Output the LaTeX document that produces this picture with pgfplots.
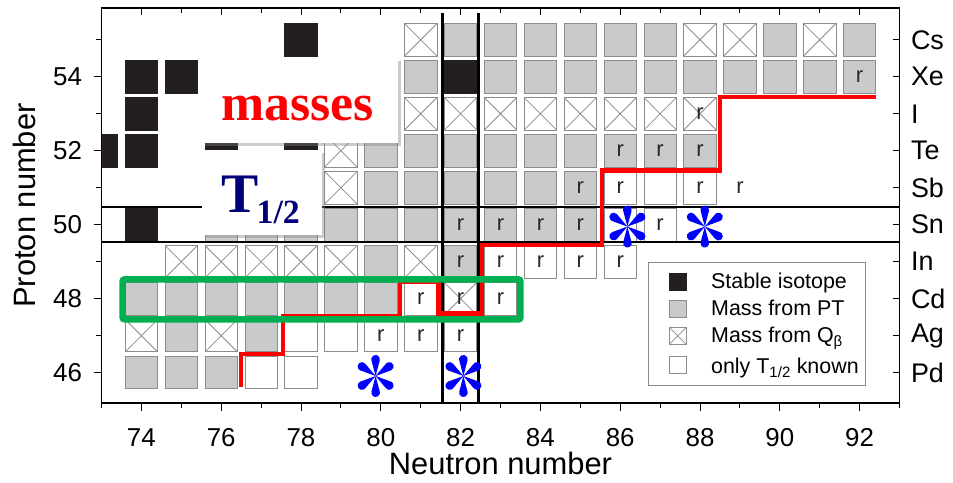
\documentclass[border=0pt]{standalone}
\usepackage{fontspec}
\setmainfont{Liberation Sans}
\newfontfamily\bserif{Liberation Serif}
\usepackage{pgfplots}
\pgfplotsset{compat=1.18}
\usetikzlibrary{shadows}
\definecolor{cellgray}{RGB}{200,202,204}
\definecolor{celledge}{RGB}{140,140,140}
\definecolor{stablec}{RGB}{35,31,32}
\definecolor{mygreen}{RGB}{0,176,80}
\definecolor{navyc}{RGB}{0,0,120}
\pgfdeclareplotmark{crossbox}{%
  \pgfpathrectangle{\pgfqpoint{-\pgfplotmarksize}{-\pgfplotmarksize}}{\pgfqpoint{2\pgfplotmarksize}{2\pgfplotmarksize}}%
  \pgfusepathqfillstroke
  \pgfpathmoveto{\pgfqpoint{-\pgfplotmarksize}{-\pgfplotmarksize}}%
  \pgfpathlineto{\pgfqpoint{\pgfplotmarksize}{\pgfplotmarksize}}%
  \pgfpathmoveto{\pgfqpoint{-\pgfplotmarksize}{\pgfplotmarksize}}%
  \pgfpathlineto{\pgfqpoint{\pgfplotmarksize}{-\pgfplotmarksize}}%
  \pgfusepathqstroke}
\pgfdeclareplotmark{ast6}{%
  \foreach \a in {90,35,-35,-90,-145,145}{%
    \pgfscope
    \pgftransformrotate{\a}%
    \pgfpathmoveto{\pgfqpoint{0pt}{0pt}}%
    \pgfpathlineto{\pgfqpoint{0.7283\pgfplotmarksize}{-0.1933\pgfplotmarksize}}%
    \pgfpatharc{-104.9}{104.9}{0.2\pgfplotmarksize}%
    \pgfpathclose
    \pgfusepathqfill
    \endpgfscope}%
}
\newcommand\rfont{\fontsize{22}{22}\selectfont}
\begin{document}
\begin{tikzpicture}
\useasboundingbox (-101.5bp,-80bp) rectangle (851.5bp,403bp);
\begin{axis}[
  at={(0,0)}, anchor=south west,
  scale only axis, width=798bp, height=395bp,
  xmin=73, xmax=93, ymin=45.18, ymax=55.86,
  axis line style={line width=1.2bp},
  xtick={74,76,...,92}, minor xtick={73,75,...,93},
  ytick={46,48,...,54}, minor ytick={45,47,...,55},
  xtick pos=left, ytick pos=left,
  tick align=outside,
  major tick length=8bp, minor tick length=5bp,
  every tick/.style={black, line width=1bp},
  tick label style={font=\fontsize{26}{26}\selectfont},
  xticklabel style={yshift=-14bp},
  yticklabel style={xshift=-8bp},
  /pgf/number format/assume math mode=true,
  xlabel={Neutron number}, ylabel={Proton number},
  every axis x label/.style={at={(axis description cs:0.5,0)}, anchor=center, yshift=-60.5bp, font=\fontsize{31}{31}\selectfont},
  every axis y label/.style={at={(axis description cs:0,0.5)}, xshift=-77.5bp, anchor=center, rotate=90, font=\fontsize{31}{31}\selectfont},
  clip marker paths=true,
  legend cell align=left,
  legend image code/.code={\draw[#1, mark size=8.5bp] plot coordinates {(0bp,0bp)}; \path (-24bp,0bp) (31bp,0bp);},
  legend style={at={(rel axis cs:0.6848,0.357)}, anchor=north west, draw=celledge, line width=0.8bp,
    font=\fontsize{21.5}{24}\selectfont, inner xsep=5bp, inner ysep=9bp, row sep=6bp},
]
% stable isotopes
\addplot[only marks, mark=square*, mark size=16.2bp, mark options={fill=stablec, draw=stablec, line width=0.8bp}] coordinates {
 (73,52)(74,52)(74,53)(74,54)(75,54)(74,50)(76,52)(78,52)(78,55)(82,54)(76,54)(77,54)(78,54)(80,54)};
\addlegendentry{Stable isotope}
% mass from PT
\addplot[only marks, mark=square*, mark size=16.2bp, mark options={fill=cellgray, draw=celledge, line width=0.8bp}] coordinates {
 (82,55)(83,55)(84,55)(85,55)(86,55)(87,55)(90,55)(92,55)
 (81,54)(83,54)(84,54)(85,54)(86,54)(87,54)(88,54)(89,54)(90,54)(91,54)(92,54)
 (80,52)(81,52)(82,52)(83,52)(84,52)(85,52)(86,52)(87,52)(88,52)
 (80,51)(81,51)(82,51)(83,51)(84,51)(85,51)
 (76,50)(77,50)(78,50)(79,50)(80,50)(81,50)(82,50)(83,50)(84,50)(85,50)
 (80,49)(82,49)
 (74,48)(75,48)(76,48)(77,48)(78,48)(79,48)(80,48)
 (75,47)(77,47)
 (74,46)(75,46)(76,46)};
\addlegendentry{Mass from PT}
% mass from Q_beta
\addplot[only marks, mark=crossbox, mark size=16.2bp, mark options={fill=white, draw=celledge, line width=0.8bp}] coordinates {
 (81,55)(88,55)(89,55)(91,55)
 (81,53)(82,53)(83,53)(84,53)(85,53)(86,53)(87,53)(88,53)
 (79,52)(79,51)
 (75,49)(76,49)(77,49)(78,49)(79,49)(81,49)
 (82,48)
 (74,47)(76,47)};
\addlegendentry{Mass from Q\textsubscript{β}}
% only T1/2 known
\addplot[only marks, mark=square*, mark size=16.2bp, mark options={fill=white, draw=celledge, line width=0.8bp}] coordinates {
 (86,51)(87,51)(88,51)
 (86,50)(87,50)
 (83,49)(84,49)(85,49)(86,49)
 (81,48)(83,48)
 (78,47)(79,47)(80,47)(81,47)(82,47)
 (77,46)(78,46)};
\addlegendentry{\rule{0pt}{19bp}only T\textsubscript{1/2} known}
% r labels
\addplot[only marks, mark=text, text mark={\rfont\color{black!85}r}, forget plot] coordinates {
 (92,54)(88,53)(86,52)(87,52)(88,52)(85,51)(86,51)(88,51)(89,51)
 (82,50)(83,50)(84,50)(85,50)(87,50)
 (82,49)(83,49)(84,49)(85,49)(86,49)
 (81,48)(82,48)(83,48)(80,47)(81,47)(82,47)};
% magic number lines
\addplot[black, line width=2.3bp, forget plot] coordinates {(73,50.47)(93,50.47)};
\addplot[black, line width=2.3bp, forget plot] coordinates {(73,49.53)(93,49.53)};
\addplot[black, line width=2.3bp, forget plot] coordinates {(81.55,45.18)(81.55,55.73)};
\addplot[black, line width=2.3bp, forget plot] coordinates {(82.45,45.18)(82.45,55.73)};
% red path
\addplot[red, line width=4.5bp, forget plot] coordinates {
 (76.5,45.6)(76.5,46.5)(77.55,46.5)(77.55,47.53)(80.48,47.53)(80.48,48.45)(81.45,48.45)(81.45,47.6)(82.53,47.6)(82.53,49.45)(85.54,49.45)(85.54,51.46)(88.5,51.46)(88.5,53.46)(92.42,53.46)};
% green box
\addplot[mygreen, line width=6.5bp, rounded corners=2bp, forget plot] coordinates {
 (73.53,47.44)(83.5,47.44)(83.5,48.52)(73.53,48.52)} -- cycle;
% text boxes
\node[fill=white, drop shadow={opacity=0.4, shadow xshift=3bp, shadow yshift=-3bp}, minimum width=196bp, minimum height=85bp, inner sep=0pt, anchor=north west] at (axis cs:75.52,54.51) {};
\node[anchor=base west, inner sep=0pt, text=red, font=\bserif\bfseries\fontsize{52}{52}\selectfont] at (axis cs:76.0,52.83) {masses};
\node[fill=white, drop shadow={opacity=0.4, shadow xshift=3bp, shadow yshift=-3bp}, minimum width=120bp, minimum height=85bp, inner sep=0pt, anchor=north west] at (axis cs:75.52,52.03) {};
\node[anchor=base west, inner sep=0pt, text=navyc, font=\bserif\bfseries\fontsize{56}{56}\selectfont] at (axis cs:76.0,50.34) {T\kern-2bp\raisebox{-11bp}{\fontsize{34}{34}\selectfont 1/2}};
% asterisks
\addplot[only marks, mark=ast6, mark size=21.5bp, mark options={fill=blue, draw=none}, forget plot] coordinates {
 (79.87,45.91)(82.07,45.91)(86.18,49.95)(88.12,49.95)};
\end{axis}
\begin{axis}[
  at={(0,0)}, anchor=south west,
  scale only axis, width=798bp, height=395bp,
  xmin=73, xmax=93, ymin=45.18, ymax=55.86,
  axis line style={line width=1.2bp},
  xtick={74,76,...,92}, minor xtick={73,75,...,93}, xticklabels={},
  ytick={46,...,55}, yticklabels={Pd,Ag,Cd,In,Sn,Sb,Te,I,Xe,Cs},
  xtick pos=right, ytick pos=right, yticklabel pos=right,
  tick align=inside,
  major tick length=7bp, minor tick length=5bp,
  every tick/.style={black, line width=1bp},
  yticklabel style={font=\fontsize{27}{27}\selectfont, anchor=west, xshift=8bp},
]
\end{axis}
\end{tikzpicture}
\end{document}
